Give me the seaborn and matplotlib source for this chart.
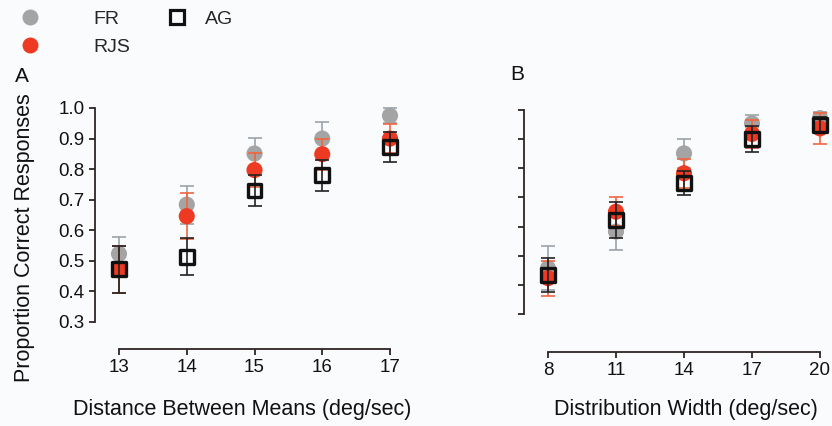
import numpy as np
import pandas as pd
import matplotlib
matplotlib.use("Agg")
import matplotlib.pyplot as plt
import seaborn as sns
from matplotlib.lines import Line2D

# ---------------- data ----------------
subjects = ["FR", "RJS", "AG"]

# Panel A: distance between means
dist_x = [13, 14, 15, 16, 17]
fr_a = [0.523, 0.684, 0.851, 0.900, 0.975]
fr_a_err = [0.055, 0.062, 0.050, 0.053, 0.025]
rjs_a = [0.472, 0.646, 0.797, 0.849, 0.900]
rjs_a_err = [0.077, 0.075, 0.057, 0.051, 0.047]
ag_a = [0.472, 0.514, 0.730, 0.780, 0.873]
ag_a_err = [0.077, 0.060, 0.052, 0.051, 0.050]

# Panel B: distribution width
width_x = [8, 11, 14, 17, 20]
fr_b = [0.457, 0.583, 0.851, 0.954, 0.972]
fr_b_err = [0.076, 0.063, 0.050, 0.030, 0.020]
rjs_b = [0.423, 0.651, 0.783, 0.918, 0.937]
rjs_b_err = [0.060, 0.050, 0.050, 0.048, 0.054]
ag_b = [0.434, 0.623, 0.749, 0.900, 0.949]
ag_b_err = [0.058, 0.062, 0.040, 0.045, 0.027]

y_ticks = [0.3, 0.4, 0.5, 0.6, 0.7, 0.8, 0.9, 1.0]
y_tick_labels = ["0.3", "0.4", "0.5", "0.6", "0.7", "0.8", "0.9", "1.0"]

# ---------------- style ----------------
sns.set_theme(style="white")
plt.rcParams["font.family"] = ["Liberation Sans", "DejaVu Sans"]
plt.rcParams["xtick.labelsize"] = 13.5
plt.rcParams["ytick.labelsize"] = 13.5

BG = "#fafbfd"
AXC = "#2e2624"
marker_col = {"FR": "#a4a4a4", "RJS": "#ee3a22", "AG": "#111111"}
err_col = {"FR": "#9ba4aa", "RJS": "#f0653f", "AG": "#222222"}

W, H = 832, 426
fig = plt.figure(figsize=(W / 100, H / 100), dpi=100, facecolor=BG)


def box(x0, x1, ytop, ybot):
    return [x0 / W, 1 - ybot / H, (x1 - x0) / W, (ybot - ytop) / H]


axA = fig.add_axes(box(119, 390, 108, 322))
axB = fig.add_axes(box(548, 820, 110, 314))


def long_df(x, series, errs):
    rows = []
    for s, vals, es in zip(subjects, series, errs):
        for xi, v, e in zip(x, vals, es):
            rows.append({"x": xi, "y": v, "err": e, "subject": s})
    return pd.DataFrame(rows)


dfA = long_df(dist_x, [fr_a, rjs_a, ag_a], [fr_a_err, rjs_a_err, ag_a_err])
dfB = long_df(width_x, [fr_b, rjs_b, ag_b], [fr_b_err, rjs_b_err, ag_b_err])


def draw(ax, df):
    for s in subjects:
        d = df[df["subject"] == s]
        eb = ax.errorbar(d["x"], d["y"], yerr=d["err"], fmt="none",
                         ecolor=err_col[s], elinewidth=1.2, capsize=4.8,
                         capthick=1.2, zorder=3 + subjects.index(s) * 2)
        for art in eb.lines[1] + eb.lines[2]:
            art.set_clip_on(False)
        if s == "AG":
            sns.scatterplot(data=d, x="x", y="y", marker="s", s=100,
                            color="black", edgecolor="#111111", linewidth=2.4,
                            ax=ax, zorder=8, clip_on=False, legend=False)
            ax.collections[-1].set_facecolor("none")
        else:
            sns.scatterplot(data=d, x="x", y="y", marker="o", s=135,
                            color=marker_col[s], edgecolor="none", linewidth=0,
                            ax=ax, zorder=4 + subjects.index(s) * 2,
                            clip_on=False, legend=False)


draw(axA, dfA)
draw(axB, dfB)

for ax, xt, boff in [(axA, dist_x, 27), (axB, width_x, 38)]:
    ax.set_facecolor("none")
    ax.set_xlim(xt[0], xt[-1])
    ax.set_ylim(0.3, 1.0)
    ax.set_xlabel("")
    ax.set_ylabel("")
    for sp in ["top", "right"]:
        ax.spines[sp].set_visible(False)
    ax.spines["left"].set_position(("outward", 24 * 0.72))
    ax.spines["bottom"].set_position(("outward", boff * 0.72))
    for sp in ["left", "bottom"]:
        ax.spines[sp].set_color(AXC)
        ax.spines[sp].set_linewidth(1.3)
    ax.tick_params(axis="both", which="major", length=4.5, width=1.3,
                   color=AXC, labelcolor="#111111", pad=3,
                   bottom=True, left=True, labelsize=13.5)
    ax.set_xticks(xt)
    ax.set_xticklabels([str(v) for v in xt], fontsize=13.5)
    ax.set_yticks(y_ticks)

axA.set_yticklabels(y_tick_labels, fontsize=13.5)
axB.set_yticklabels([""] * len(y_ticks))

# axis labels & panel letters
fig.text(25 / W, 1 - 238 / H, "Proportion Correct Responses", rotation=90,
         ha="center", va="center", fontsize=15.5, color="#111111")
fig.text(242 / W, 1 - 410 / H, "Distance Between Means (deg/sec)",
         ha="center", va="center", fontsize=15.5, color="#111111")
fig.text(686 / W, 1 - 410 / H, "Distribution Width (deg/sec)",
         ha="center", va="center", fontsize=15.5, color="#111111")
fig.text(22 / W, 1 - 76 / H, "A", ha="center", va="center", fontsize=15,
         color="#111111")
fig.text(517 / W, 1 - 74 / H, "B", ha="center", va="center", fontsize=15,
         color="#111111")

# legends
h_fr = Line2D([], [], ls="none", marker="o", ms=11.5, mfc=marker_col["FR"],
              mec="none")
h_rjs = Line2D([], [], ls="none", marker="o", ms=11.5, mfc=marker_col["RJS"],
               mec="none")
h_ag = Line2D([], [], ls="none", marker="s", ms=10.5, mfc="none",
              mec="#111111", mew=2.3)
fs = 14
fspx = fs / 0.72
leg1 = fig.legend([h_fr, h_rjs], ["FR", "RJS"], loc="upper left",
                  bbox_to_anchor=((30 - fspx / 2) / W, 1 - 10 / H),
                  frameon=False, fontsize=fs, handlelength=1.0,
                  handletextpad=(93 - (30 - fspx / 2)) / fspx - 1.0,
                  labelspacing=0.55, borderpad=0, borderaxespad=0)
leg2 = fig.legend([h_ag], ["AG"], loc="upper left",
                  bbox_to_anchor=((177 - fspx / 2) / W, 1 - 10 / H),
                  frameon=False, fontsize=fs, handlelength=1.0,
                  handletextpad=(205 - (177 - fspx / 2)) / fspx - 1.0,
                  borderpad=0, borderaxespad=0)

fig.savefig("out.png", dpi=100, facecolor=BG)
